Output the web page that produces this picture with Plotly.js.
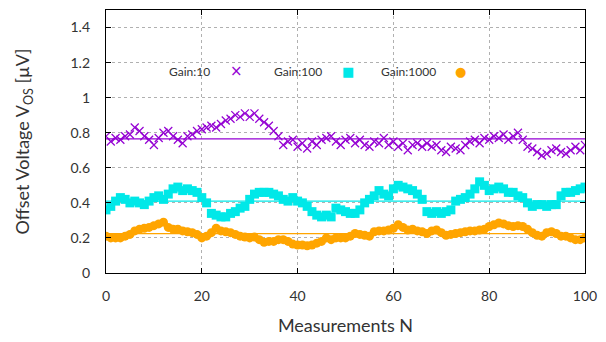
<!DOCTYPE html>
<html><head><meta charset="utf-8">
<script src="https://cdn.plot.ly/plotly-3.0.1.min.js"></script>
<style>html,body{margin:0;padding:0;background:#fff}#c{width:606px;height:342px}</style>
</head><body><div id="c"></div>
<script>
const seriesNames = ["Gain:10", "Gain:100", "Gain:1000"];
const gain10 = [0.78,0.75,0.77,0.76,0.78,0.79,0.83,0.81,0.78,0.76,0.73,0.77,0.80,0.81,0.78,0.76,0.74,0.78,0.79,0.81,
0.82,0.83,0.84,0.83,0.85,0.87,0.88,0.90,0.89,0.91,0.89,0.91,0.88,0.86,0.84,0.81,0.78,0.73,0.75,0.76,
0.72,0.74,0.71,0.75,0.73,0.76,0.77,0.78,0.75,0.73,0.76,0.77,0.74,0.76,0.73,0.72,0.75,0.74,0.77,0.73,
0.75,0.72,0.74,0.70,0.73,0.74,0.72,0.74,0.72,0.73,0.70,0.69,0.72,0.71,0.70,0.73,0.75,0.76,0.74,0.77,
0.76,0.78,0.77,0.79,0.76,0.78,0.80,0.76,0.72,0.71,0.69,0.67,0.68,0.70,0.71,0.69,0.68,0.70,0.72,0.70,0.73];
const gain100 = [0.36,0.38,0.41,0.43,0.42,0.40,0.41,0.40,0.39,0.41,0.43,0.44,0.42,0.45,0.48,0.49,0.47,0.48,0.47,0.46,
0.43,0.40,0.34,0.33,0.32,0.32,0.34,0.35,0.37,0.38,0.42,0.45,0.46,0.46,0.46,0.45,0.44,0.42,0.41,0.43,
0.41,0.40,0.38,0.35,0.33,0.32,0.33,0.32,0.37,0.36,0.35,0.34,0.34,0.36,0.40,0.42,0.44,0.47,0.45,0.44,
0.48,0.50,0.49,0.48,0.47,0.45,0.42,0.35,0.34,0.35,0.34,0.35,0.36,0.41,0.42,0.43,0.45,0.48,0.52,0.50,
0.47,0.48,0.49,0.48,0.46,0.46,0.44,0.43,0.40,0.38,0.39,0.39,0.38,0.39,0.39,0.44,0.46,0.46,0.47,0.48,0.49];
const gain1000 = [0.21,0.20,0.20,0.20,0.21,0.22,0.24,0.25,0.255,0.26,0.27,0.28,0.29,0.26,0.25,0.25,0.24,0.235,0.23,0.22,
0.20,0.21,0.23,0.255,0.24,0.235,0.23,0.22,0.21,0.205,0.20,0.205,0.19,0.175,0.18,0.18,0.19,0.19,0.18,0.165,
0.16,0.16,0.155,0.16,0.17,0.18,0.20,0.19,0.20,0.20,0.20,0.21,0.225,0.22,0.215,0.21,0.235,0.24,0.24,0.245,
0.255,0.275,0.26,0.245,0.25,0.24,0.235,0.225,0.24,0.245,0.23,0.215,0.22,0.225,0.23,0.235,0.24,0.24,0.245,0.25,
0.265,0.275,0.285,0.28,0.27,0.265,0.27,0.265,0.25,0.23,0.215,0.21,0.23,0.235,0.225,0.21,0.21,0.20,0.19,0.19,0.20];
const means = [0.765, 0.41, 0.225];
const xRange = [0, 100];
const yTickVals = [0, 0.2, 0.4, 0.6, 0.8, 1, 1.2, 1.4];
const yTickText = ["0", "0.2", "0.4", "0.6", "0.8", "1", "1.2", "1.4"];
const xTickVals = [0, 20, 40, 60, 80, 100];

const N = gain10.map((_, i) => i);
const colors = ["#9400D3", "#00E8E8", "#FFA500"];
const symbols = ["x-thin-open", "square", "circle"];
const sizes = [8, 9, 9];
const data = [gain10, gain100, gain1000];

const traces = [];
data.forEach((d, k) => {
  traces.push({x: xRange, y: [means[k], means[k]], mode: "lines", line: {color: colors[k], width: 1.2}, showlegend: false, hoverinfo: "skip"});
});
data.forEach((d, k) => {
  traces.push({x: N, y: d, mode: "markers", name: seriesNames[k], showlegend: false,
    marker: {symbol: symbols[k], size: sizes[k], color: colors[k], line: {color: colors[k], width: k === 0 ? 1.2 : 0}}});
});

const font = "Lato, 'Open Sans', sans-serif";
const legendGlyphs = ["×", "■", "●"];
const legendTextX = [189, 298, 408];
const legendGlyphX = [236, 348, 460];
const annotations = [];
seriesNames.forEach((n, k) => {
  annotations.push({xref: "paper", yref: "paper", x: (legendTextX[k] - 106) / 479, y: (273 - 71) / 263, text: n, showarrow: false,
    xanchor: "center", yanchor: "middle", font: {family: font, size: 12, color: "#333"}});
  annotations.push({xref: "paper", yref: "paper", x: (legendGlyphX[k] - 106) / 479, y: (273 - 71) / 263, text: legendGlyphs[k], showarrow: false,
    xanchor: "center", yanchor: "middle", font: {family: "DejaVu Sans", size: k === 0 ? 15 : 13, color: colors[k]}});
});

const layout = {
  width: 606, height: 342,
  margin: {l: 106, r: 21, t: 10, b: 69},
  paper_bgcolor: "#fff", plot_bgcolor: "#fff",
  showlegend: false,
  font: {family: font, color: "#333"},
  xaxis: {range: xRange, tickvals: xTickVals, ticks: "inside", ticklen: 5, tickcolor: "#000", mirror: "ticks",
    showline: true, linecolor: "#000", linewidth: 1.2, showgrid: true, gridcolor: "#b0b0b0", griddash: "dot", gridwidth: 1,
    zeroline: false, tickfont: {size: 14, color: "#333"}, ticklabelstandoff: 10,
    title: {text: "Measurements N", font: {size: 18, color: "#333"}, standoff: 16}},
  yaxis: {range: [0, 1.5], tickvals: yTickVals, ticktext: yTickText, ticks: "inside", ticklen: 5, tickcolor: "#000", mirror: "ticks",
    showline: true, linecolor: "#000", linewidth: 1.2, showgrid: true, gridcolor: "#b0b0b0", griddash: "dot", gridwidth: 1,
    zeroline: false, tickfont: {size: 14, color: "#333"}, ticklabelstandoff: 12,
    title: {text: "Offset Voltage V<sub>OS</sub> [µV]", font: {size: 18, color: "#333"}, standoff: 36}},
  annotations: annotations
};
Plotly.newPlot("c", traces, layout, {staticPlot: true, displayModeBar: false});
</script>
</body></html>
